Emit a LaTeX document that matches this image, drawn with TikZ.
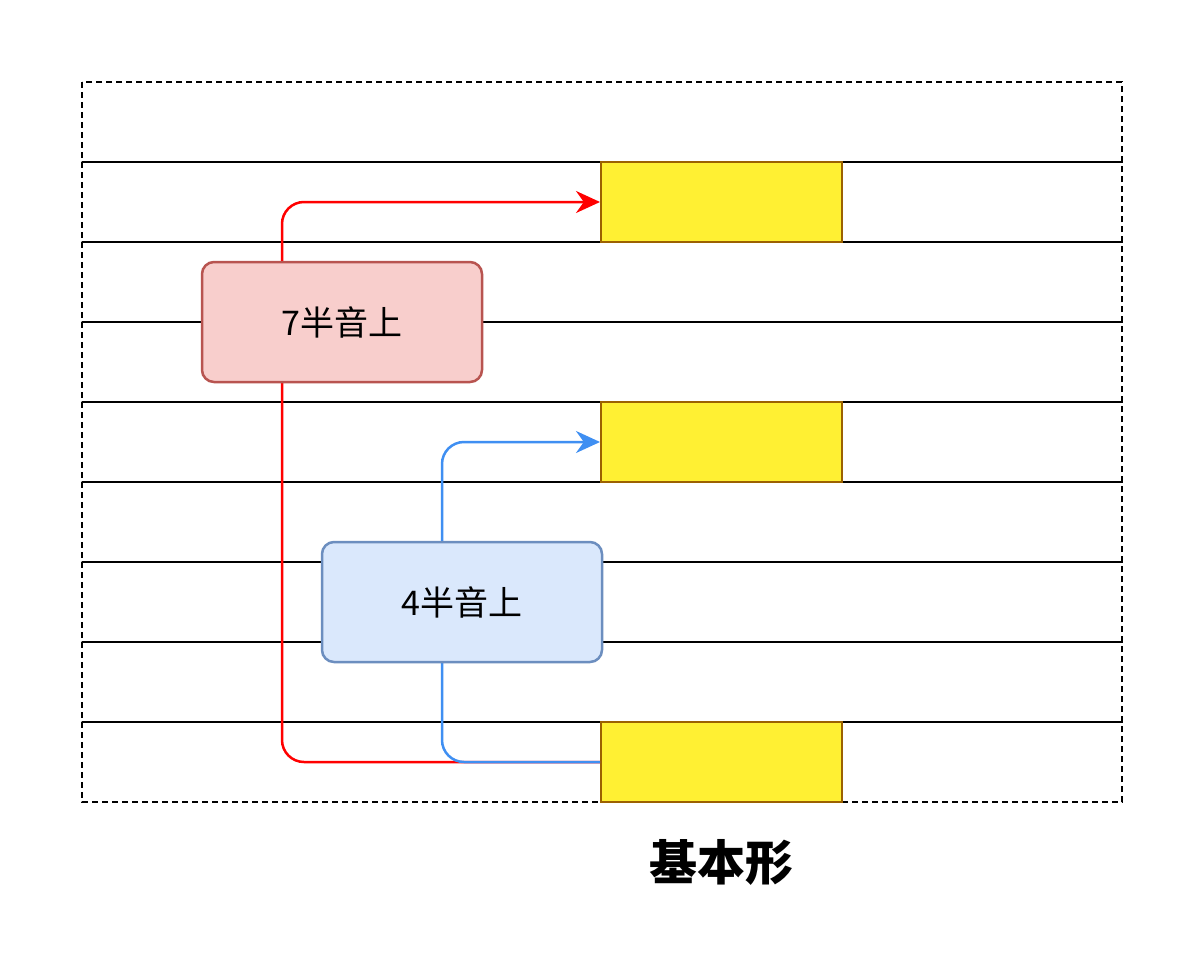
\documentclass[tikz,border=0pt]{standalone}
\usepackage{fontspec}
\newfontfamily\cjk{Noto Sans CJK SC}
\usetikzlibrary{arrows.meta}
\definecolor{yel}{HTML}{FFF033}
\definecolor{yeld}{HTML}{9C6100}
\definecolor{redf}{HTML}{F8CECC}
\definecolor{redd}{HTML}{B85450}
\definecolor{bluef}{HTML}{DAE8FC}
\definecolor{blued}{HTML}{6C8EBF}
\definecolor{bline}{HTML}{3F8FF2}
\tikzset{
 row/.style={draw=black,dashed,line width=1.5pt,dash pattern=on 6pt off 4pt},
 yb/.style={draw=yeld,fill=yel,line width=2pt,minimum width=241pt,minimum height=80pt,inner sep=0pt},
 lab/.style={rounded corners=12pt,line width=2.5pt,minimum width=280pt,minimum height=120pt,font=\cjk\fontsize{34pt}{40pt}\selectfont,inner sep=0pt},
 conn/.style={line width=2.5pt,rounded corners=22pt,-{Stealth[length=24pt,width=22pt]}}
}
\begin{document}
\begin{tikzpicture}[x=1pt,y=-1pt]
\useasboundingbox (0,0) rectangle (1200,964);
\foreach \i in {0,...,8}{
 \draw[row] (82,82+80*\i) rectangle (1122,162+80*\i);
}
\node[yb] (y1) at (721.5,202) {};
\node[yb] (y2) at (721.5,442) {};
\node[yb] (y3) at (721.5,762) {};
\draw[conn,red] (y3.west) -- (282,762) -- (282,202) -- (y1.west);
\draw[conn,bline] (y3.west) -- (442,762) -- (442,442) -- (y2.west);
\node[lab,draw=redd,fill=redf] (r) at (342,322) {7半音上};
\node[lab,draw=blued,fill=bluef] (b) at (462,602) {4半音上};
\node[font=\cjk\bfseries\fontsize{48pt}{56pt}\selectfont] (t) at (721,862) {基本形};
\end{tikzpicture}
\end{document}
